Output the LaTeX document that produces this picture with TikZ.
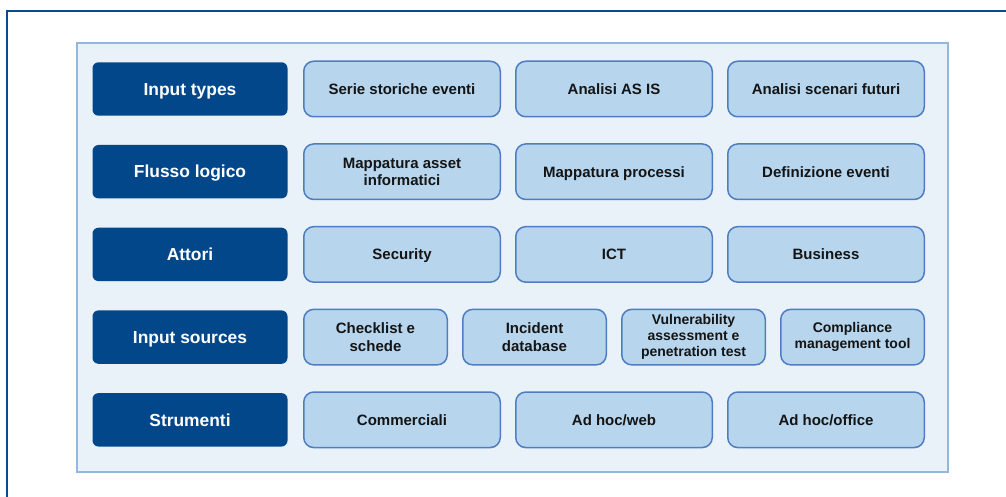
\documentclass[tikz,border=0pt]{standalone}
\usepackage{fontspec}
\setmainfont{Liberation Sans}
\definecolor{navy}{HTML}{03478B}
\definecolor{framecol}{HTML}{0C4B87}
\definecolor{panelfill}{HTML}{E9F1F9}
\definecolor{panelline}{HTML}{94B8DD}
\definecolor{cellfill}{HTML}{B7D6EE}
\definecolor{cellline}{HTML}{4F7DC2}
\definecolor{celltext}{HTML}{141414}
\begin{document}
\begin{tikzpicture}[x=1pt,y=-1pt,
  head/.style={fill=navy, text=white, rounded corners=6pt, inner sep=0pt,
    minimum width=195pt, minimum height=53.4pt, align=center,
    text height=12.5pt, text depth=0pt,
    font=\fontsize{17.4}{20}\selectfont\bfseries},
  cellbase/.style={fill=cellfill, draw=cellline, line width=1.5pt, rounded corners=10pt,
    inner sep=0pt, minimum width=196.5pt, minimum height=55.5pt, align=center,
    text=celltext, font=\fontsize{15}{17.3}\selectfont\bfseries},
  % single-line cells: cap height centred in the box
  cell/.style={cellbase, text height=10.75pt, text depth=0pt},
  % multi-line cells keep their natural height
  narrow/.style={cellbase, minimum width=143.5pt},
  small/.style={font=\fontsize{14}{16.2}\selectfont\bfseries}]
\useasboundingbox (0,0) rectangle (1006,497);
\fill[white] (0,0) rectangle (1006,497);
% outer frame: top and left rules only
\draw[framecol, line width=2.5pt] (1006,11) -- (7,11) -- (7,497);
% light panel behind the grid
\draw[fill=panelfill, draw=panelline, line width=1.5pt] (77,43) rectangle (948,472);

% row labels
\node[head] (h1) at (190,89)    {Input types};
\node[head] (h2) at (190,171.7) {Flusso logico};
\node[head] (h3) at (190,254.4) {Attori};
\node[head] (h4) at (190,337.1) {Input sources};
\node[head] (h5) at (190,419.8) {Strumenti};

% row 1
\node[cell] (a1) at (402,89) {Serie storiche eventi};
\node[cell] (a2) at (614,89) {Analisi AS IS};
\node[cell] (a3) at (826,89) {Analisi scenari futuri};
% row 2
\node[cellbase] (b1) at (402,171.7) {Mappatura asset\\informatici};
\node[cell] (b2) at (614,171.7) {Mappatura processi};
\node[cell] (b3) at (826,171.7) {Definizione eventi};
% row 3
\node[cell] (c1) at (402,254.4) {Security};
\node[cell] (c2) at (614,254.4) {ICT};
\node[cell] (c3) at (826,254.4) {Business};
% row 4
\node[narrow] (d1) at (375.5,337.1) {Checklist e\\schede};
\node[narrow] (d2) at (534.5,337.1) {Incident\\database};
\node[narrow, small] (d3) at (693.5,337.1) {Vulnerability\\assessment e\\penetration test};
\node[narrow, small] (d4) at (852.5,337.1) {Compliance\\management tool};
% row 5
\node[cell] (e1) at (402,419.8) {Commerciali};
\node[cell] (e2) at (614,419.8) {Ad hoc/web};
\node[cell] (e3) at (826,419.8) {Ad hoc/office};
\end{tikzpicture}
\end{document}
